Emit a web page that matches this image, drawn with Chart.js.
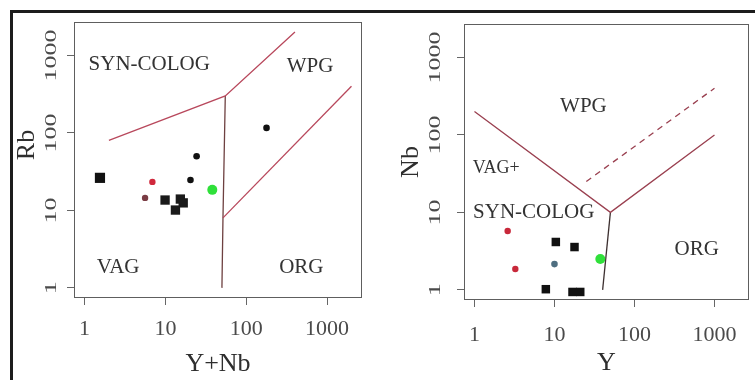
<!DOCTYPE html>
<html lang="en">
<head>
<meta charset="UTF-8">
<title>Rb - (Y+Nb) and Nb - Y discrimination diagrams</title>
<script src="https://cdn.jsdelivr.net/npm/chart.js"></script>
<style>
  body {
    margin: 0;
    background: #fff;
    width: 755px;
    height: 380px;
    overflow: hidden;
    position: relative;
  }
  .panel { position: absolute; top: 0; height: 380px; }
  #rbPanel { left: 0; width: 375px; }
  #nbPanel { left: 375px; width: 380px; }
  .frame-top { position: absolute; left: 10px; top: 10px; width: 745px; height: 3px; background: #1c1c1c; }
  .frame-left { position: absolute; left: 10px; top: 10px; width: 3px; height: 370px; background: #1c1c1c; }
</style>
</head>
<body>
<div class="panel" id="rbPanel"><canvas id="rbChart"></canvas></div>
<div class="panel" id="nbPanel"><canvas id="nbChart"></canvas></div>
<div class="frame-top"></div>
<div class="frame-left"></div>

<script>
// log axes, both diagrams
const tickValues = [1, 10, 100, 1000];
const tickLabels = ['1', '10', '100', '1000'];
const axisMin = 0.74;
const axisMax = 2700;

// ---- Rb vs Y+Nb ----
const rbSquaresX = [9.9, 15.3, 16.6, 13.3];
const rbSquaresY = [13.6, 14.0, 12.5, 10.1];
const rbBigSquareX = [1.55];
const rbBigSquareY = [26.3];
const rbDotsX = [178, 24.3, 20.4];
const rbDotsY = [116, 50, 24.7];
const rbRedX = [6.9];
const rbRedY = [23.3];
const rbBrownX = [5.6];
const rbBrownY = [14.5];
const rbGreenX = [38];
const rbGreenY = [18.4];

// field boundaries
const rbSynWpgX = [2, 55, 400];
const rbSynWpgY = [80, 300, 2000];
const rbVagOrgX = [55, 51.5, 50];
const rbVagOrgY = [300, 8, 1];
const rbWpgOrgX = [51.5, 2000];
const rbWpgOrgY = [8, 400];

const rbRegionNames = ['SYN-COLOG', 'WPG', 'VAG', 'ORG'];
const rbRegionX = [6.3, 615, 2.6, 480];
const rbRegionY = [760, 710, 1.85, 1.85];

// ---- Nb vs Y ----
const nbSquaresX = [10.4, 17.8, 7.8, 16.8, 21];
const nbSquaresY = [4.15, 3.57, 1.02, 0.94, 0.94];
const nbRedX = [2.6, 3.24];
const nbRedY = [5.75, 1.86];
const nbBlueX = [10];
const nbBlueY = [2.15];
const nbGreenX = [37.4];
const nbGreenY = [2.5];

const nbUpperX = [1, 50, 1000];
const nbUpperY = [200, 10, 100];
const nbDashedX = [25, 1000];
const nbDashedY = [25, 400];
const nbVerticalX = [50, 40];
const nbVerticalY = [10, 1];

const nbRegionNames = ['WPG', 'VAG+', 'SYN-COLOG', 'ORG'];
const nbRegionX = [23, 1.87, 5.5, 600];
const nbRegionY = [230, 37, 10, 3.3];

const SERIF = '"Liberation Serif", "DejaVu Serif", serif';

function pts(xs, ys) {
  return xs.map((v, i) => ({ x: v, y: ys[i] }));
}

function markers(xs, ys, color, style, radius) {
  return {
    data: pts(xs, ys),
    pointStyle: style,
    pointRadius: radius,
    pointBackgroundColor: color,
    pointBorderColor: color,
    pointBorderWidth: 0,
    showLine: false
  };
}

function boundary(xs, ys, color, dash) {
  return {
    data: pts(xs, ys),
    showLine: true,
    borderColor: color,
    borderWidth: 1.3,
    borderDash: dash || [],
    pointRadius: 0,
    fill: false
  };
}

// box, tick labels, axis titles and field names
const diagramDecor = {
  id: 'diagramDecor',
  afterDraw(chart, args, opts) {
    const { ctx, chartArea: a, scales: { x, y } } = chart;
    ctx.save();
    ctx.strokeStyle = '#5e5e5e';
    ctx.lineWidth = 1;
    ctx.strokeRect(a.left + 0.5, a.top + 0.5, a.right - a.left - 1, a.bottom - a.top - 1);

    ctx.fillStyle = '#4a4a4a';
    ctx.textAlign = 'center';
    ctx.textBaseline = 'middle';
    ctx.font = '22px ' + SERIF;
    tickValues.forEach((v, i) => {
      ctx.fillText(tickLabels[i], x.getPixelForValue(v), a.bottom + opts.xTickGap);
    });
    tickValues.forEach((v, i) => {
      ctx.save();
      ctx.translate(a.left - opts.yTickGap, y.getPixelForValue(v));
      ctx.rotate(-Math.PI / 2);
      ctx.scale(1.3, 0.85);
      ctx.font = '20px ' + SERIF;
      ctx.fillText(tickLabels[i], 0, 0);
      ctx.restore();
    });

    ctx.fillStyle = '#2e2e2e';
    ctx.font = '26px ' + SERIF;
    ctx.fillText(opts.xTitle, (a.left + a.right) / 2, a.bottom + opts.xTitleGap);
    ctx.save();
    ctx.translate(a.left - opts.yTitleGap, (a.top + a.bottom) / 2 + opts.yTitleShift);
    ctx.rotate(-Math.PI / 2);
    ctx.fillText(opts.yTitle, 0, 0);
    ctx.restore();

    ctx.fillStyle = '#333';
    opts.names.forEach((name, i) => {
      ctx.font = (name === 'VAG+' ? 18 : 21) + 'px ' + SERIF;
      ctx.fillText(name, x.getPixelForValue(opts.nx[i]), y.getPixelForValue(opts.ny[i]));
    });
    ctx.restore();
  }
};

function buildDiagram(canvasId, datasets, panel) {
  return new Chart(document.getElementById(canvasId), {
    type: 'scatter',
    data: { datasets: datasets },
    options: {
      animation: false,
      responsive: true,
      maintainAspectRatio: false,
      layout: { padding: { top: panel.top, right: panel.right, left: 0, bottom: 0 } },
      plugins: {
        legend: { display: false },
        tooltip: { enabled: false },
        diagramDecor: panel.decor
      },
      scales: {
        x: {
          type: 'logarithmic',
          min: axisMin,
          max: axisMax,
          bounds: 'data',
          afterBuildTicks: s => { s.ticks = tickValues.map(v => ({ value: v })); },
          afterFit: s => { s.height = panel.xAxisHeight; },
          ticks: { display: false },
          border: { display: false },
          grid: { drawOnChartArea: false, drawTicks: true, tickLength: 7, color: '#666' }
        },
        y: {
          type: 'logarithmic',
          min: axisMin,
          max: axisMax,
          bounds: 'data',
          afterBuildTicks: s => { s.ticks = tickValues.map(v => ({ value: v })); },
          afterFit: s => { s.width = panel.yAxisWidth; },
          ticks: { display: false },
          border: { display: false },
          grid: { drawOnChartArea: false, drawTicks: true, tickLength: 7, color: '#666' }
        }
      }
    },
    plugins: [diagramDecor]
  });
}

buildDiagram('rbChart', [
  markers(rbBigSquareX, rbBigSquareY, '#111', 'rect', 7.2),
  markers(rbSquaresX, rbSquaresY, '#1a1a1a', 'rect', 6.6),
  markers(rbDotsX, rbDotsY, '#111', 'circle', 3.3),
  markers(rbRedX, rbRedY, '#d0283c', 'circle', 3.2),
  markers(rbBrownX, rbBrownY, '#7a3c44', 'circle', 3.2),
  markers(rbGreenX, rbGreenY, '#2fe03a', 'circle', 5),
  boundary(rbSynWpgX, rbSynWpgY, '#b8485c'),
  boundary(rbWpgOrgX, rbWpgOrgY, '#b8485c'),
  boundary(rbVagOrgX, rbVagOrgY, '#6e4040')
], {
  top: 22, right: 13, yAxisWidth: 74, xAxisHeight: 82,
  decor: {
    xTickGap: 31, yTickGap: 22, xTitle: 'Y+Nb', xTitleGap: 66,
    yTitle: 'Rb', yTitleGap: 47, yTitleShift: -15,
    names: rbRegionNames, nx: rbRegionX, ny: rbRegionY
  }
});

buildDiagram('nbChart', [
  markers(nbSquaresX, nbSquaresY, '#111', 'rect', 6),
  markers(nbRedX, nbRedY, '#c8283a', 'circle', 3.2),
  markers(nbBlueX, nbBlueY, '#4e6e80', 'circle', 3.3),
  markers(nbGreenX, nbGreenY, '#2fe03a', 'circle', 5),
  boundary(nbUpperX, nbUpperY, '#9a4050'),
  boundary(nbDashedX, nbDashedY, '#9a4050', [6, 5]),
  boundary(nbVerticalX, nbVerticalY, '#3d3030')
], {
  top: 24, right: 2, yAxisWidth: 89, xAxisHeight: 80,
  decor: {
    xTickGap: 35, yTickGap: 28, xTitle: 'Y', xTitleGap: 63,
    yTitle: 'Nb', yTitleGap: 53, yTitleShift: 0,
    names: nbRegionNames, nx: nbRegionX, ny: nbRegionY
  }
});
</script>
</body>
</html>
